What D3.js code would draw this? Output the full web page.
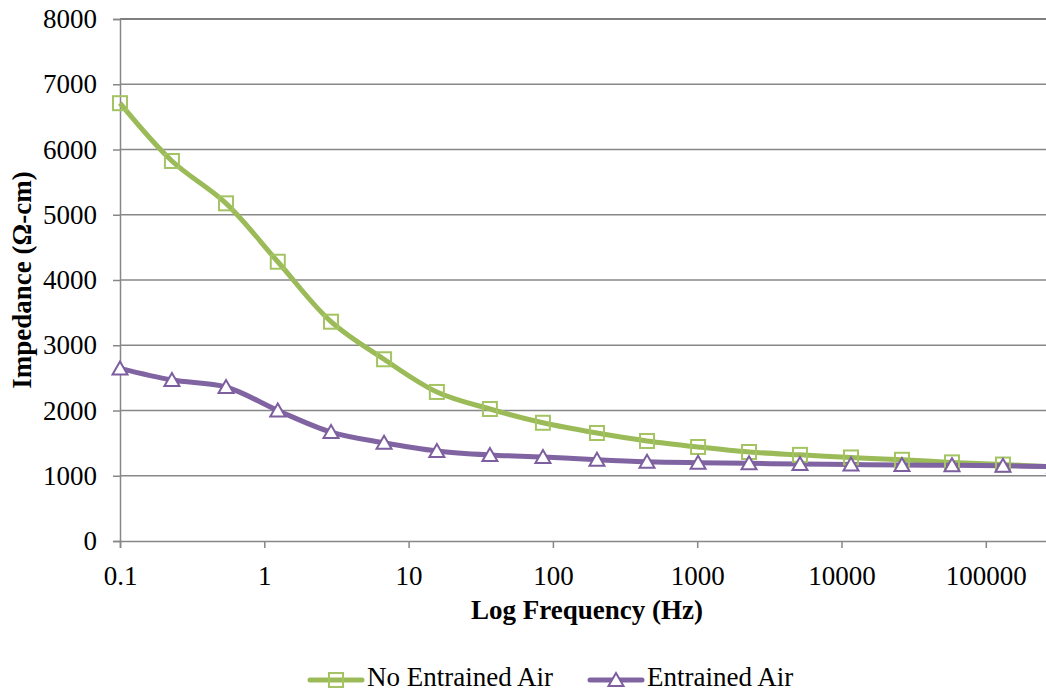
<!DOCTYPE html>
<html>
<head>
<meta charset="utf-8">
<script src="https://cdn.jsdelivr.net/npm/d3@7"></script>
<style>
  html, body { margin: 0; padding: 0; background: #fff; }
  svg { display: block; }
</style>
</head>
<body>
<svg id="chart" width="1046" height="692"></svg>
<script>
// Measured frequencies of the impedance sweep (Hz)
const frequencies = [0.1, 0.229, 0.543, 1.24, 2.9, 6.76, 15.7, 36.6, 85.3, 202, 449, 1014, 2287, 5155, 11640, 26240, 58300, 131500, 300000];
// Impedance (Ω-cm) of each mix
const noEntrainedAir = [6710, 5824, 5175, 4280, 3361, 2785, 2284, 2023, 1812, 1655, 1533, 1441, 1364, 1320, 1280, 1245, 1205, 1172, 1135];
const entrainedAir   = [2645, 2467, 2360, 2000, 1670, 1505, 1379, 1318, 1287, 1245, 1215, 1200, 1190, 1180, 1172, 1165, 1160, 1152, 1138];
const xTicks = [0.1, 1, 10, 100, 1000, 10000, 100000];
const yTicks = [0, 1000, 2000, 3000, 4000, 5000, 6000, 7000, 8000];

const FONT = '"Liberation Serif", "Times New Roman", Times, serif';
const FS = 27;

const svg = d3.select("#chart");
const W = 1046, H = 692;
const plotLeft = 120, plotTop = 19, plotBottom = 541;
const decade = 144.3;

const x = d3.scaleLog().domain([0.1, 1e6]).range([plotLeft, plotLeft + 7 * decade]);
const y = d3.scaleLinear().domain([0, 8000]).range([plotBottom, plotTop]);

const gridColor = "#878787";

// horizontal gridlines
svg.append("g").selectAll("line").data(yTicks.filter(v => v > 0 && v < 8000)).join("line")
  .attr("x1", plotLeft).attr("x2", W).attr("y1", d => y(d)).attr("y2", d => y(d))
  .attr("stroke", gridColor).attr("stroke-width", 1.5);
svg.append("line").attr("x1", plotLeft).attr("x2", W).attr("y1", y(8000)).attr("y2", y(8000))
  .attr("stroke", "#000").attr("stroke-width", 1.2);

// y axis
const yAxis = svg.append("g").attr("transform", `translate(${plotLeft},0)`)
  .call(d3.axisLeft(y).tickValues(yTicks).tickSize(7).tickPadding(16).tickFormat(d3.format("d")));
yAxis.select(".domain").attr("stroke", gridColor).attr("stroke-width", 1.5);
yAxis.selectAll(".tick line").attr("stroke", gridColor).attr("stroke-width", 1.5);
yAxis.selectAll(".tick text").style("font-family", FONT).style("font-size", FS + "px").attr("fill", "#000");

// x axis
const xAxis = svg.append("g").attr("transform", `translate(0,${plotBottom})`)
  .call(d3.axisBottom(x).tickValues(xTicks).tickSize(7).tickPadding(18).tickFormat(d => String(d)));
xAxis.select(".domain").attr("stroke", gridColor).attr("stroke-width", 1.5);
xAxis.selectAll(".tick line").attr("stroke", gridColor).attr("stroke-width", 1.5);
xAxis.selectAll(".tick text").style("font-family", FONT).style("font-size", FS + "px").attr("fill", "#000");

// axis titles
svg.append("text").attr("x", 587).attr("y", 619).attr("text-anchor", "middle")
  .style("font-family", FONT).style("font-size", FS + "px").style("font-weight", "bold")
  .text("Log Frequency (Hz)");
svg.append("text").attr("transform", "translate(31,280) rotate(-90)").attr("text-anchor", "middle")
  .style("font-family", FONT).style("font-size", FS + "px").style("font-weight", "bold")
  .text("Impedance (Ω-cm)");

// clip to visible plot
svg.append("clipPath").attr("id", "plotclip").append("rect")
  .attr("x", plotLeft - 10).attr("y", 0).attr("width", W - plotLeft + 10).attr("height", plotBottom + 10);

const series = [
  { name: "No Entrained Air", values: noEntrainedAir, color: "#9BBB59", marker: "square", markerColor: "#a4c463" },
  { name: "Entrained Air", values: entrainedAir, color: "#8064A2", marker: "triangle", markerColor: "#7d5fa0" }
];

const line = d3.line().x(d => x(d[0])).y(d => y(d[1])).curve(d3.curveCatmullRom.alpha(0.5));

const plot = svg.append("g").attr("clip-path", "url(#plotclip)");

function drawMarker(g, kind, color, cx, cy) {
  if (kind === "square") {
    g.append("rect").attr("x", cx - 7).attr("y", cy - 7).attr("width", 14).attr("height", 14)
      .attr("fill", "none").attr("stroke", color).attr("stroke-width", 2);
  } else {
    g.append("path").attr("d", `M${cx},${cy - 7}L${cx + 7.5},${cy + 6}L${cx - 7.5},${cy + 6}Z`)
      .attr("fill", "#fff").attr("stroke", color).attr("stroke-width", 2);
  }
}

series.forEach(s => {
  const pts = frequencies.map((f, i) => [f, s.values[i]]);
  plot.append("path").datum(pts).attr("d", line)
    .attr("fill", "none").attr("stroke", s.color).attr("stroke-width", 5).attr("stroke-linejoin", "round");
});
series.forEach(s => {
  const mg = plot.append("g");
  frequencies.forEach((f, i) => drawMarker(mg, s.marker, s.markerColor, x(f), y(s.values[i])));
});

// legend
const legend = svg.append("g");
const legendItems = [
  { s: series[0], x0: 310, tx: 367 },
  { s: series[1], x0: 590, tx: 647 }
];
legendItems.forEach(it => {
  legend.append("line").attr("x1", it.x0).attr("x2", it.x0 + 52).attr("y1", 680).attr("y2", 680)
    .attr("stroke", it.s.color).attr("stroke-width", 5).attr("stroke-linecap", "round");
  drawMarker(legend, it.s.marker, it.s.markerColor, it.x0 + 26, 680);
  legend.append("text").attr("x", it.tx).attr("y", 686)
    .style("font-family", FONT).style("font-size", FS + "px").text(it.s.name);
});
</script>
</body>
</html>
